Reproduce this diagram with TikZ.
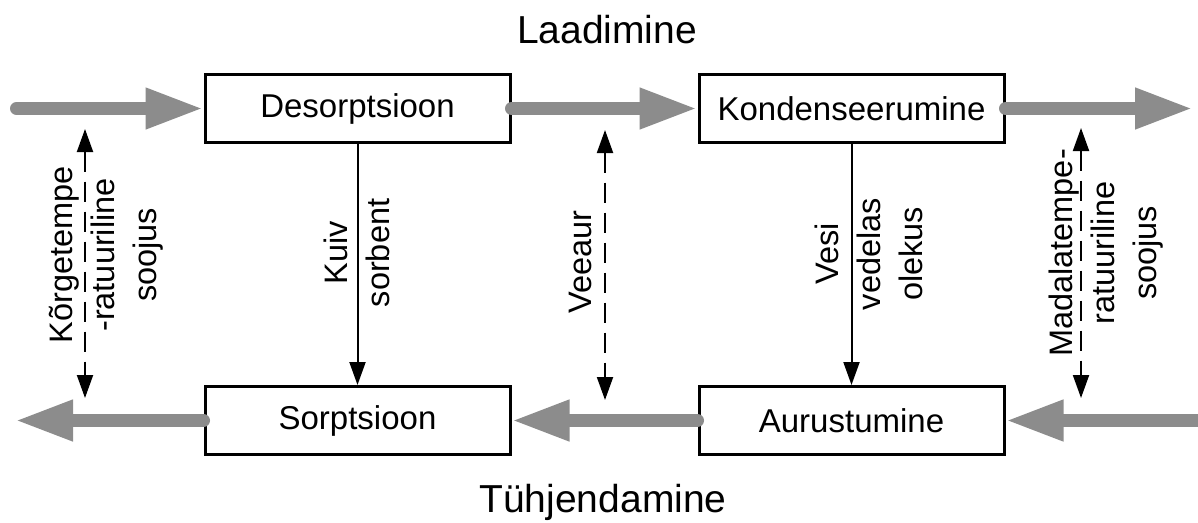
\documentclass[tikz,border=0pt]{standalone}
\usepackage{fontspec}
\setmainfont{Liberation Sans}
\usetikzlibrary{arrows.meta}
\definecolor{arrowgray}{RGB}{140,140,140}
\tikzset{
  box/.style={draw, line width=3pt, fill=white, minimum width=305pt, minimum height=68pt, inner sep=0pt, font=\fontsize{33}{38}\selectfont},
  flow/.style={draw=arrowgray, line width=13pt, line cap=round, -{Triangle[length=58pt,width=38pt]}},
  solidarr/.style={draw, line width=2pt, -{Triangle[length=23pt,width=16pt]}},
  dasharr/.style={draw, line width=2pt, dash pattern=on 20pt off 10pt, {Triangle[length=23pt,width=16pt]}-{Triangle[length=23pt,width=16pt]}},
  lbl/.style={rotate=90, align=center, inner sep=0pt, font=\fontsize{32.5}{42}\selectfont},
  title/.style={anchor=base, inner sep=0pt, font=\fontsize{39}{46}\selectfont}
}
\begin{document}
\begin{tikzpicture}[x=1pt,y=-1pt]
\useasboundingbox (0,0) rectangle (1198,522);
\node[box] (des) at (357.5,108.5) {Desorptsioon};
\node[box] (kon) at (851.5,108.5) {Kondenseerumine};
\node[box] (sor) at (357.5,420.5) {Sorptsioon};
\node[box] (aur) at (851.5,420.5) {Aurustumine};
\node[title] (laad) at (607,43) {Laadimine};
\node[title] (tyhj) at (603,512) {Tühjendamine};
\coordinate (inA) at (16.5,108.5);
\coordinate (outA) at (1193,108.5);
\coordinate (inB) at (1210,420.5);
\coordinate (outB) at (15,420.5);
\draw[flow] (inA) -- (des.west);
\draw[flow] (des.east) -- (kon.west);
\draw[flow] (kon.east) -- (outA);
\draw[flow] (inB) -- (aur.east);
\draw[flow] (aur.west) -- (sor.east);
\draw[flow] (sor.west) -- (outB);
\draw[solidarr] (des.south) -- (sor.north);
\draw[solidarr] (kon.south) -- (aur.north);
\coordinate (h1t) at (85,129);
\coordinate (h1b) at (85,398);
\coordinate (v1t) at (605,130);
\coordinate (v1b) at (605,400);
\coordinate (h2t) at (1081,128);
\coordinate (h2b) at (1081,398);
\draw[dasharr] (h1t) -- (h1b);
\draw[dasharr] (v1t) -- (v1b);
\draw[dasharr] (h2t) -- (h2b);
\node[lbl] (kg) at (106,255) {Kõrgetempe\\-ratuuriline\\soojus};
\node[lbl] (ks) at (357,253) {Kuiv\\sorbent};
\node[lbl] (va) at (580,262) {Veeaur};
\node[lbl] (vv) at (869,254) {Vesi\\vedelas\\olekus};
\node[lbl] (md) at (1106,253) {Madalatempe-\\ratuuriline\\soojus};
\end{tikzpicture}
\end{document}
